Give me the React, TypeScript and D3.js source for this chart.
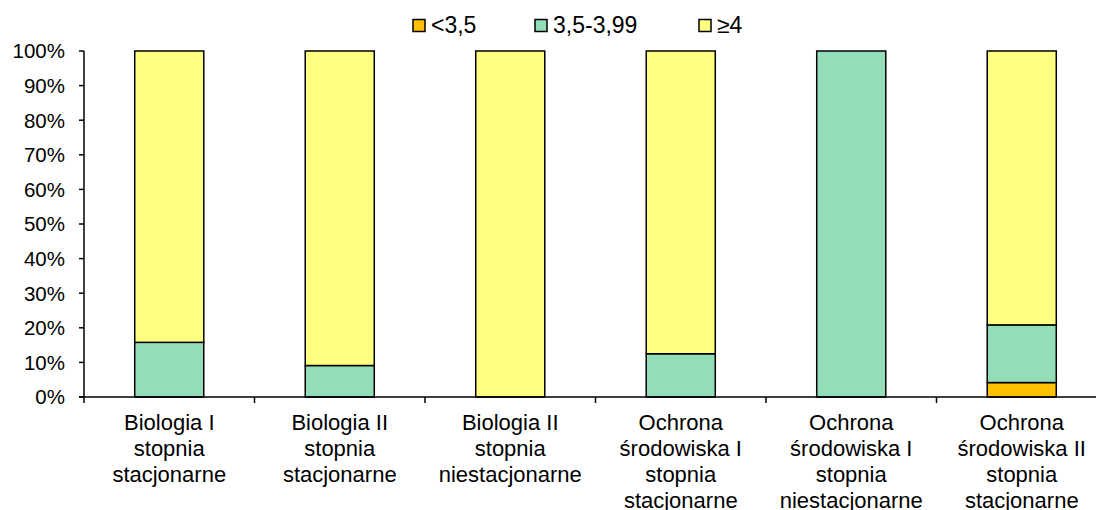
import React from "react";
import * as d3 from "d3";

const categories = [
  "Biologia I\nstopnia\nstacjonarne",
  "Biologia II\nstopnia\nstacjonarne",
  "Biologia II\nstopnia\nniestacjonarne",
  "Ochrona\nśrodowiska I\nstopnia\nstacjonarne",
  "Ochrona\nśrodowiska I\nstopnia\nniestacjonarne",
  "Ochrona\nśrodowiska II\nstopnia\nstacjonarne",
];
const seriesNames = ["<3,5", "3,5-3,99", "≥4"];
const below35 = [0, 0, 0, 0, 0, 4.17];
const mid35 = [15.8, 9.1, 0, 12.5, 100, 16.67];
const above4 = [84.2, 90.9, 100, 87.5, 0, 79.16];
const yTicks = [0, 10, 20, 30, 40, 50, 60, 70, 80, 90, 100];
const colors = ["#FFC000", "#93DEB8", "#FFFF80"];

const W = 1096;
const H = 510;
const FONT = "'Liberation Sans', Arial, sans-serif";

export default function App() {
  const x0 = 84;
  const x1 = 1107;
  const yTop = 51;
  const yBottom = 397;

  const xScale = d3
    .scaleBand<number>()
    .domain(categories.map((_, i) => i))
    .range([x0, x1])
    .padding(0);
  const yScale = d3.scaleLinear().domain([0, 100]).range([yBottom, yTop]);

  const rows = categories.map((c, i) => ({
    i,
    v0: below35[i],
    v1: mid35[i],
    v2: above4[i],
  }));
  const stack = d3.stack<any>().keys(["v0", "v1", "v2"])(rows);

  const bw = xScale.bandwidth() * 0.405;

  const legendItems = [
    { x: 413, label: seriesNames[0] },
    { x: 535, label: seriesNames[1] },
    { x: 699, label: seriesNames[2] },
  ];

  return (
    <svg
      width={W}
      height={H}
      style={{ position: "absolute", left: 0, top: 0, background: "#fff" }}
      fontFamily={FONT}
    >
      {/* legend */}
      {legendItems.map((d, i) => (
        <g key={i} transform={`translate(${d.x},19.5)`}>
          <rect width={12} height={12} fill={colors[i]} stroke="#000" strokeWidth={1.5} />
          <text x={18} y={13.5} fontSize={23} fill="#000">
            {d.label}
          </text>
        </g>
      ))}

      {/* y axis */}
      <line x1={x0} x2={x0} y1={yTop} y2={yBottom} stroke="#000" strokeWidth={1.5} />
      {yTicks.map((t) => (
        <g key={t} transform={`translate(0,${yScale(t)})`}>
          <line x1={x0 - 5} x2={x0} stroke="#000" strokeWidth={1.5} />
          <text x={65} dy="0.36em" textAnchor="end" fontSize={20.5} fill="#000">
            {t}%
          </text>
        </g>
      ))}

      {/* bars */}
      {stack.map((layer, k) => (
        <g key={k} fill={colors[k]}>
          {layer.map((s, i) =>
            s[1] - s[0] > 0 ? (
              <rect
                key={i}
                x={xScale(i)! + (xScale.bandwidth() - bw) / 2}
                y={yScale(s[1])}
                width={bw}
                height={yScale(s[0]) - yScale(s[1])}
                stroke="#000"
                strokeWidth={1.5}
              />
            ) : null
          )}
        </g>
      ))}

      {/* x axis */}
      <line x1={x0 - 5} x2={x1} y1={yBottom} y2={yBottom} stroke="#000" strokeWidth={1.5} />
      {categories.map((c, i) => (
        <g key={i}>
          <line
            x1={xScale(i)!}
            x2={xScale(i)!}
            y1={yBottom}
            y2={yBottom + 6}
            stroke="#000"
            strokeWidth={1.5}
          />
          <text
            x={xScale(i)! + xScale.bandwidth() / 2}
            y={430}
            textAnchor="middle"
            fontSize={22}
            fill="#000"
          >
            {c.split("\n").map((line, j) => (
              <tspan key={j} x={xScale(i)! + xScale.bandwidth() / 2} dy={j === 0 ? 0 : 26}>
                {line}
              </tspan>
            ))}
          </text>
        </g>
      ))}
    </svg>
  );
}
